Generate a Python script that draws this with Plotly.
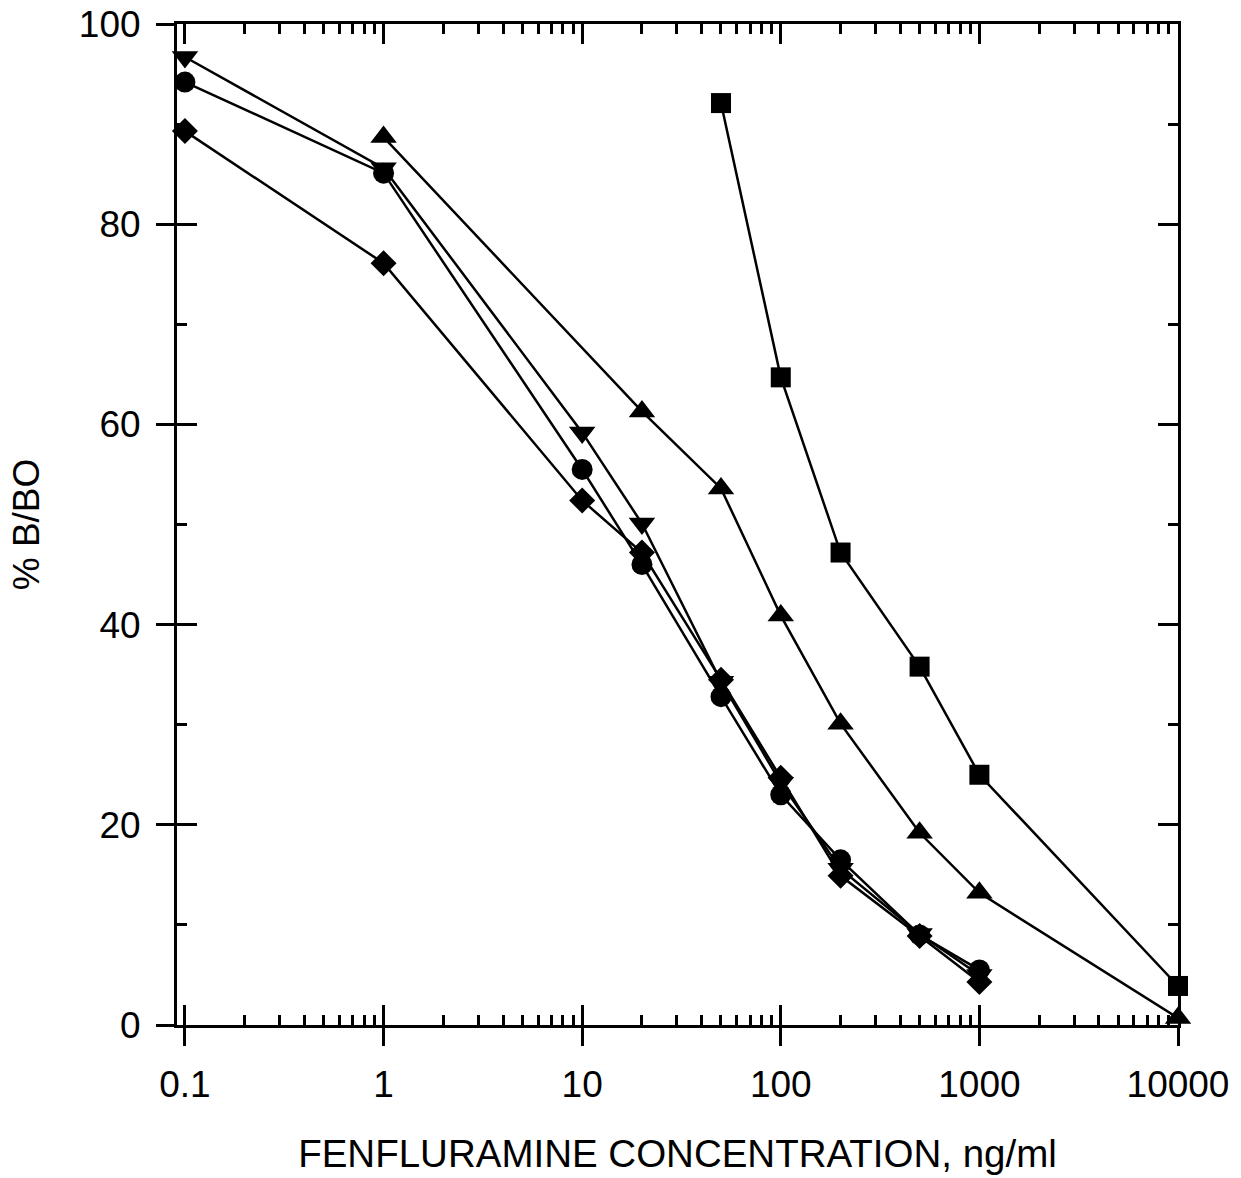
import plotly.graph_objects as go

# ---- data ----
circle_x = [0.1, 1, 10, 20, 50, 100, 200, 500, 1000]
circle_y = [94.2, 85.1, 55.5, 46.0, 32.8, 23.0, 16.5, 9.0, 5.5]

tridown_x = [0.1, 1, 10, 20, 50, 100, 200, 500, 1000]
tridown_y = [96.7, 85.6, 59.2, 50.1, 34.3, 24.2, 15.6, 9.1, 5.0]

diamond_x = [0.1, 1, 10, 20, 50, 100, 200, 500, 1000]
diamond_y = [89.3, 76.1, 52.4, 47.2, 34.5, 24.7, 14.9, 8.9, 4.3]

triup_x = [1, 20, 50, 100, 200, 500, 1000, 10000]
triup_y = [88.7, 61.3, 53.6, 40.9, 30.1, 19.2, 13.2, 0.7]

square_x = [50, 100, 200, 500, 1000, 10000]
square_y = [92.1, 64.7, 47.2, 35.8, 25.0, 3.9]

x_tickvals = [0.1, 1, 10, 100, 1000, 10000]
x_ticktext = ["0.1", "1", "10", "100", "1000", "10000"]
y_tickvals = [0, 20, 40, 60, 80, 100]
y_ticktext = ["0", "20", "40", "60", "80", "100"]
x_minor = [k * 10.0 ** d for d in range(-1, 4) for k in range(2, 10)]
y_minor = [10, 30, 50, 70, 90]

FONT = "Liberation Sans, Arial, sans-serif"
LW = 2.5

fig = go.Figure()

series = [
    (tridown_x, tridown_y, "triangle-down", 23),
    (circle_x, circle_y, "circle", 21),
    (diamond_x, diamond_y, "diamond", 20),
    (triup_x, triup_y, "triangle-up", 23),
    (square_x, square_y, "square", 20),
]
for xs, ys, sym, sz in series:
    fig.add_trace(go.Scatter(
        x=xs, y=ys, mode="lines+markers",
        line=dict(color="black", width=LW),
        marker=dict(symbol=sym, size=sz, color="black", line=dict(width=0)),
        cliponaxis=False, showlegend=False,
    ))

# invisible trace to anchor overlay axes
fig.add_trace(go.Scatter(x=[1], y=[50], xaxis="x2", yaxis="y2", mode="markers",
                         marker=dict(opacity=0), showlegend=False, hoverinfo="skip"))

xrange = [-1.04, 4.0]
yrange = [0, 100]

fig.update_layout(
    width=1241, height=1178,
    margin=dict(l=177, r=63, t=24, b=153, autoexpand=False),
    paper_bgcolor="white", plot_bgcolor="white",
    font=dict(family=FONT, size=37, color="black"),
    xaxis=dict(
        type="log", range=xrange, showgrid=False, zeroline=False, automargin=False,
        showline=True, linecolor="black", linewidth=LW, mirror="allticks",
        ticks="inside", ticklen=20, tickwidth=LW, tickcolor="black",
        tickmode="array", tickvals=x_tickvals, showticklabels=False,
        minor=dict(tickmode="array", tickvals=x_minor, ticks="inside",
                   ticklen=10, tickwidth=LW, tickcolor="black", showgrid=False),
    ),
    yaxis=dict(
        range=yrange, showgrid=False, zeroline=False, automargin=False,
        showline=True, linecolor="black", linewidth=LW, mirror="allticks",
        ticks="inside", ticklen=20, tickwidth=LW, tickcolor="black",
        tickmode="array", tickvals=y_tickvals, showticklabels=False,
        minor=dict(tickmode="array", tickvals=y_minor, ticks="inside",
                   ticklen=10, tickwidth=LW, tickcolor="black", showgrid=False),
    ),
    xaxis2=dict(
        type="log", range=xrange, overlaying="x", side="bottom", anchor="y2",
        showgrid=False, zeroline=False, showline=False, automargin=False,
        ticks="outside", ticklen=20, tickwidth=LW, tickcolor="black",
        tickmode="array", tickvals=x_tickvals, ticktext=x_ticktext,
        ticklabelstandoff=7,
        tickfont=dict(family=FONT, size=37),
        title=dict(text="FENFLURAMINE CONCENTRATION, ng/ml",
                   font=dict(family=FONT, size=38.5), standoff=35),
    ),
    yaxis2=dict(
        range=yrange, overlaying="y", side="left", anchor="x2",
        showgrid=False, zeroline=False, showline=False, automargin=False,
        ticks="outside", ticklen=20, tickwidth=LW, tickcolor="black",
        tickmode="array", tickvals=y_tickvals, ticktext=y_ticktext,
        ticklabelstandoff=8,
        tickfont=dict(family=FONT, size=37),
        title=dict(text="% B/BO", font=dict(family=FONT, size=37), standoff=27),
    ),
)

fig.write_html("out.html")
